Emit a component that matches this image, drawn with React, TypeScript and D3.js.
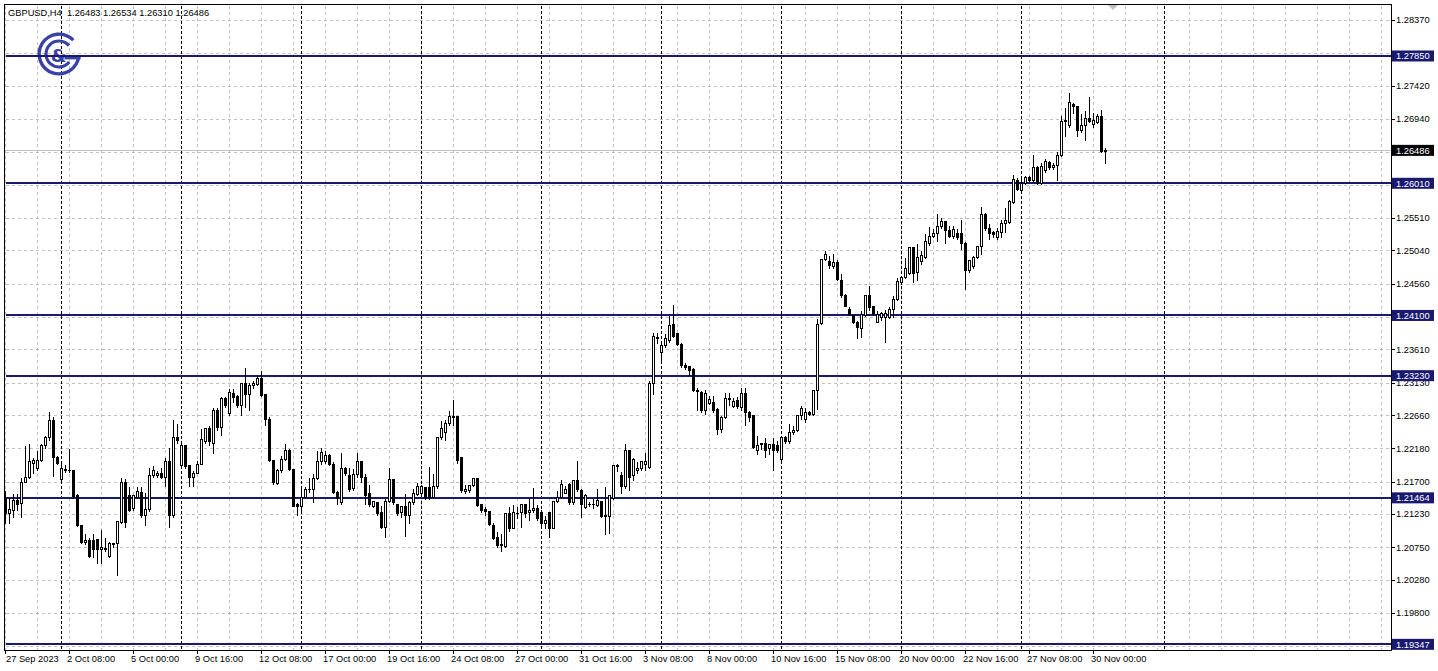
import React from 'react';
import * as d3 from 'd3';

type Candle = [number, number, number, number]; // open, high, low, close

// ---- price data (H4 bars) ----
const week0: Candle[] = [ // 27 Sep 16:00 - 29 Sep
  [1.2146,1.2158,1.2110,1.2124],[1.2124,1.2148,1.2110,1.2130],[1.2129,1.2153,1.2119,1.2143],[1.2143,1.2153,1.2129,1.2138],
  [1.2139,1.2177,1.2119,1.2170],[1.2170,1.2223,1.2170,1.2177],[1.2177,1.2225,1.2175,1.2199],[1.2197,1.2206,1.2182,1.2201],
  [1.2189,1.2216,1.2187,1.2201],[1.2201,1.2225,1.2199,1.2223],[1.2223,1.2237,1.2219,1.2234],[1.2234,1.2272,1.2230,1.2259],
  [1.2259,1.2264,1.2178,1.2205],[1.2206,1.2208,1.2196,1.2197],
];
const week1: Candle[] = [ // 2 Oct - 6 Oct
  [1.2173,1.2201,1.2172,1.2189],[1.2188,1.2196,1.2184,1.2187],[1.2187,1.2219,1.2184,1.2187],[1.2187,1.2188,1.2148,1.2149],
  [1.2151,1.2153,1.2106,1.2107],[1.2107,1.2107,1.2081,1.2082],[1.2082,1.2095,1.2079,1.2085],[1.2086,1.2090,1.2061,1.2062],
  [1.2086,1.2095,1.2061,1.2073],[1.2087,1.2088,1.2052,1.2072],[1.2072,1.2102,1.2052,1.2076],[1.2073,1.2090,1.2069,1.2074],
  [1.2062,1.2084,1.2061,1.2081],[1.2081,1.2082,1.2076,1.2080],[1.2081,1.2114,1.2035,1.2113],[1.2112,1.2177,1.2110,1.2169],
  [1.2169,1.2175,1.2105,1.2112],[1.2151,1.2163,1.2128,1.2129],[1.2132,1.2151,1.2129,1.2151],[1.2148,1.2163,1.2146,1.2156],
  [1.2155,1.2163,1.2119,1.2122],[1.2122,1.2155,1.2107,1.2130],[1.2130,1.2191,1.2127,1.2180],[1.2180,1.2194,1.2177,1.2187],
  [1.2180,1.2187,1.2176,1.2182],[1.2182,1.2191,1.2175,1.2176],[1.2176,1.2206,1.2163,1.2199],[1.2199,1.2220,1.2105,1.2121],
  [1.2121,1.2261,1.2119,1.2234],[1.2234,1.2254,1.2226,1.2230],
];
const week2: Candle[] = [ // 9 Oct - 13 Oct
  [1.2194,1.2225,1.2191,1.2223],[1.2223,1.2224,1.2189,1.2192],[1.2194,1.2195,1.2163,1.2177],[1.2177,1.2187,1.2163,1.2183],
  [1.2183,1.2201,1.2182,1.2196],[1.2196,1.2247,1.2195,1.2232],[1.2228,1.2249,1.2225,1.2247],[1.2247,1.2252,1.2223,1.2228],
  [1.2225,1.2278,1.2211,1.2273],[1.2273,1.2278,1.2245,1.2249],[1.2249,1.2293,1.2237,1.2290],[1.2290,1.2294,1.2278,1.2281],
  [1.2269,1.2305,1.2266,1.2300],[1.2298,1.2305,1.2285,1.2292],[1.2293,1.2297,1.2278,1.2280],[1.2280,1.2314,1.2266,1.2313],
  [1.2312,1.2336,1.2278,1.2296],[1.2296,1.2314,1.2273,1.2310],[1.2310,1.2317,1.2305,1.2313],[1.2311,1.2324,1.2310,1.2319],
  [1.2319,1.2331,1.2294,1.2295],[1.2297,1.2298,1.2252,1.2261],[1.2261,1.2264,1.2200,1.2201],[1.2201,1.2203,1.2167,1.2170],
  [1.2168,1.2189,1.2166,1.2187],[1.2187,1.2208,1.2184,1.2202],[1.2202,1.2226,1.2201,1.2215],[1.2215,1.2218,1.2187,1.2188],
  [1.2188,1.2189,1.2134,1.2135],[1.2138,1.2141,1.2122,1.2135],
];
const week3: Candle[] = [ // 16 Oct - 20 Oct
  [1.2134,1.2160,1.2129,1.2147],[1.2147,1.2163,1.2146,1.2159],[1.2159,1.2177,1.2155,1.2159],[1.2159,1.2182,1.2141,1.2175],
  [1.2175,1.2216,1.2174,1.2199],[1.2199,1.2220,1.2196,1.2212],[1.2199,1.2216,1.2197,1.2208],[1.2208,1.2211,1.2194,1.2196],
  [1.2196,1.2199,1.2153,1.2155],[1.2155,1.2158,1.2138,1.2146],[1.2140,1.2213,1.2138,1.2190],[1.2190,1.2193,1.2180,1.2182],
  [1.2179,1.2191,1.2157,1.2159],[1.2160,1.2189,1.2158,1.2181],[1.2181,1.2213,1.2177,1.2200],[1.2200,1.2201,1.2170,1.2177],
  [1.2176,1.2182,1.2138,1.2151],[1.2153,1.2167,1.2134,1.2138],[1.2135,1.2143,1.2133,1.2142],[1.2140,1.2141,1.2122,1.2124],
  [1.2126,1.2136,1.2103,1.2105],[1.2105,1.2146,1.2090,1.2142],[1.2142,1.2191,1.2141,1.2173],[1.2173,1.2175,1.2138,1.2140],
  [1.2137,1.2138,1.2122,1.2125],[1.2126,1.2136,1.2119,1.2134],[1.2134,1.2153,1.2091,1.2122],[1.2122,1.2143,1.2110,1.2141],
  [1.2140,1.2160,1.2138,1.2153],[1.2152,1.2170,1.2151,1.2163],
];
const week4: Candle[] = [ // 23 Oct - 27 Oct
  [1.2153,1.2167,1.2151,1.2163],[1.2162,1.2163,1.2145,1.2147],[1.2162,1.2193,1.2145,1.2148],[1.2148,1.2182,1.2146,1.2163],
  [1.2163,1.2236,1.2160,1.2234],[1.2234,1.2259,1.2231,1.2247],[1.2241,1.2260,1.2230,1.2255],[1.2254,1.2274,1.2252,1.2265],
  [1.2264,1.2289,1.2252,1.2263],[1.2264,1.2264,1.2197,1.2201],[1.2205,1.2206,1.2155,1.2158],[1.2157,1.2167,1.2153,1.2159],
  [1.2158,1.2167,1.2155,1.2165],[1.2165,1.2176,1.2164,1.2175],[1.2175,1.2176,1.2134,1.2136],[1.2138,1.2138,1.2126,1.2129],
  [1.2130,1.2135,1.2122,1.2128],[1.2128,1.2129,1.2107,1.2108],[1.2107,1.2112,1.2087,1.2089],[1.2090,1.2098,1.2076,1.2078],
  [1.2080,1.2095,1.2069,1.2078],[1.2077,1.2125,1.2076,1.2124],[1.2124,1.2134,1.2098,1.2103],[1.2103,1.2138,1.2103,1.2126],
  [1.2125,1.2134,1.2118,1.2124],[1.2126,1.2139,1.2105,1.2138],[1.2138,1.2138,1.2119,1.2125],[1.2126,1.2148,1.2114,1.2129],
  [1.2129,1.2162,1.2126,1.2132],[1.2132,1.2138,1.2114,1.2117],
];
const week5: Candle[] = [ // 30 Oct - 3 Nov
  [1.2126,1.2131,1.2107,1.2110],[1.2110,1.2122,1.2103,1.2115],[1.2126,1.2126,1.2090,1.2103],[1.2103,1.2143,1.2103,1.2142],
  [1.2142,1.2158,1.2141,1.2148],[1.2148,1.2173,1.2146,1.2167],[1.2154,1.2165,1.2153,1.2159],[1.2167,1.2170,1.2138,1.2140],
  [1.2140,1.2173,1.2138,1.2172],[1.2172,1.2201,1.2157,1.2159],[1.2158,1.2160,1.2119,1.2138],[1.2133,1.2153,1.2132,1.2151],
  [1.2138,1.2142,1.2134,1.2137],[1.2137,1.2146,1.2132,1.2138],[1.2136,1.2160,1.2134,1.2143],[1.2142,1.2143,1.2119,1.2120],
  [1.2122,1.2163,1.2094,1.2120],[1.2120,1.2152,1.2095,1.2151],[1.2146,1.2196,1.2145,1.2194],[1.2193,1.2197,1.2185,1.2194],
  [1.2179,1.2185,1.2154,1.2163],[1.2163,1.2225,1.2160,1.2216],[1.2216,1.2216,1.2158,1.2177],[1.2179,1.2206,1.2172,1.2203],
  [1.2187,1.2199,1.2182,1.2190],[1.2189,1.2201,1.2187,1.2200],[1.2196,1.2212,1.2187,1.2200],[1.2191,1.2317,1.2190,1.2313],
  [1.2312,1.2386,1.2297,1.2380],[1.2379,1.2386,1.2370,1.2377],
];
const week6: Candle[] = [ // 6 Nov - 10 Nov
  [1.2357,1.2374,1.2345,1.2367],[1.2367,1.2384,1.2365,1.2377],[1.2374,1.2410,1.2372,1.2396],[1.2398,1.2427,1.2379,1.2381],
  [1.2384,1.2386,1.2367,1.2369],[1.2369,1.2372,1.2336,1.2338],[1.2338,1.2343,1.2333,1.2336],[1.2337,1.2338,1.2324,1.2331],
  [1.2333,1.2336,1.2301,1.2302],[1.2303,1.2307,1.2273,1.2301],[1.2300,1.2302,1.2271,1.2273],[1.2273,1.2304,1.2268,1.2298],
  [1.2284,1.2295,1.2282,1.2289],[1.2285,1.2295,1.2271,1.2273],[1.2275,1.2278,1.2239,1.2246],[1.2246,1.2266,1.2242,1.2263],
  [1.2263,1.2300,1.2262,1.2291],[1.2291,1.2300,1.2280,1.2289],[1.2279,1.2292,1.2278,1.2286],[1.2288,1.2294,1.2276,1.2279],
  [1.2277,1.2306,1.2273,1.2298],[1.2298,1.2307,1.2251,1.2271],[1.2271,1.2273,1.2258,1.2263],[1.2266,1.2268,1.2218,1.2220],
  [1.2215,1.2237,1.2210,1.2223],[1.2225,1.2226,1.2217,1.2224],[1.2225,1.2234,1.2206,1.2216],[1.2218,1.2225,1.2210,1.2224],
  [1.2224,1.2234,1.2186,1.2216],[1.2223,1.2230,1.2213,1.2216],
];
const week7: Candle[] = [ // 13 Nov - 17 Nov
  [1.2203,1.2237,1.2201,1.2234],[1.2234,1.2237,1.2225,1.2229],[1.2229,1.2254,1.2225,1.2242],[1.2242,1.2251,1.2239,1.2245],
  [1.2245,1.2268,1.2243,1.2266],[1.2266,1.2280,1.2261,1.2276],[1.2260,1.2278,1.2256,1.2271],[1.2271,1.2273,1.2266,1.2268],
  [1.2268,1.2304,1.2266,1.2302],[1.2302,1.2406,1.2275,1.2398],[1.2399,1.2492,1.2398,1.2491],[1.2491,1.2505,1.2490,1.2499],
  [1.2489,1.2497,1.2478,1.2483],[1.2482,1.2500,1.2478,1.2487],[1.2487,1.2492,1.2461,1.2462],[1.2461,1.2471,1.2437,1.2439],
  [1.2439,1.2442,1.2423,1.2423],[1.2420,1.2423,1.2411,1.2412],[1.2411,1.2411,1.2399,1.2401],[1.2401,1.2403,1.2377,1.2393],
  [1.2392,1.2418,1.2379,1.2412],[1.2411,1.2441,1.2409,1.2439],[1.2439,1.2454,1.2418,1.2422],[1.2424,1.2425,1.2411,1.2412],
  [1.2401,1.2418,1.2400,1.2412],[1.2408,1.2416,1.2403,1.2413],[1.2408,1.2420,1.2372,1.2413],[1.2408,1.2423,1.2406,1.2420],
  [1.2419,1.2440,1.2408,1.2434],[1.2434,1.2466,1.2432,1.2460],
];
const week8: Candle[] = [ // 20 Nov - 24 Nov
  [1.2459,1.2468,1.2456,1.2466],[1.2465,1.2494,1.2464,1.2478],[1.2472,1.2510,1.2470,1.2509],[1.2509,1.2510,1.2459,1.2472],
  [1.2473,1.2515,1.2461,1.2495],[1.2488,1.2505,1.2485,1.2497],[1.2494,1.2529,1.2493,1.2517],[1.2514,1.2539,1.2512,1.2525],
  [1.2525,1.2536,1.2523,1.2529],[1.2529,1.2558,1.2517,1.2539],[1.2539,1.2553,1.2536,1.2546],[1.2546,1.2548,1.2515,1.2534],
  [1.2534,1.2541,1.2523,1.2525],[1.2525,1.2541,1.2522,1.2535],[1.2529,1.2536,1.2520,1.2524],[1.2529,1.2549,1.2506,1.2514],
  [1.2514,1.2517,1.2448,1.2475],[1.2475,1.2492,1.2473,1.2490],[1.2481,1.2497,1.2479,1.2494],[1.2494,1.2512,1.2493,1.2510],
  [1.2510,1.2568,1.2499,1.2557],[1.2556,1.2560,1.2533,1.2536],[1.2536,1.2543,1.2521,1.2529],[1.2531,1.2534,1.2523,1.2528],
  [1.2523,1.2538,1.2520,1.2532],[1.2531,1.2550,1.2523,1.2544],[1.2544,1.2567,1.2531,1.2548],[1.2545,1.2579,1.2543,1.2575],
  [1.2574,1.2614,1.2572,1.2607],[1.2606,1.2610,1.2591,1.2593],
];
const week9: Candle[] = [ // 27 Nov - 30 Nov 12:00
  [1.2591,1.2608,1.2589,1.2601],[1.2601,1.2613,1.2600,1.2610],[1.2610,1.2613,1.2605,1.2606],[1.2606,1.2643,1.2605,1.2624],
  [1.2624,1.2627,1.2600,1.2601],[1.2601,1.2632,1.2600,1.2626],[1.2620,1.2637,1.2618,1.2633],[1.2632,1.2634,1.2621,1.2624],
  [1.2624,1.2632,1.2622,1.2627],[1.2627,1.2648,1.2606,1.2642],[1.2642,1.2699,1.2640,1.2691],[1.2691,1.2711,1.2670,1.2692],
  [1.2685,1.2733,1.2683,1.2718],[1.2716,1.2719,1.2702,1.2712],[1.2712,1.2714,1.2670,1.2678],[1.2678,1.2702,1.2675,1.2685],
  [1.2685,1.2707,1.2663,1.2696],[1.2696,1.2727,1.2690,1.2691],[1.2686,1.2704,1.2683,1.2692],[1.2690,1.2703,1.2688,1.2698],
  [1.2698,1.2709,1.2646,1.2648],[1.26483,1.26534,1.26310,1.26486],
];

const symbol = 'GBPUSD,H4';
const lastBarText = ['1.26483', '1.26534', '1.26310', '1.26486'];
const currentPrice = 1.26486;

const priceLabels = ['1.28370','1.27420','1.26940','1.25510','1.25040','1.24560','1.23610','1.23130','1.22660','1.22180','1.21700','1.21230','1.20750','1.20280','1.19800'];
const gridPrices = [1.28370,1.27890,1.27420,1.26940,1.26460,1.25990,1.25510,1.25040,1.24560,1.24080,1.23610,1.23130,1.22660,1.22180,1.21700,1.21230,1.20750,1.20280,1.19800,1.19330];
const levels = [1.27850, 1.26010, 1.24100, 1.23230, 1.21464, 1.19347];

const timeLabels = ['27 Sep 2023','2 Oct 08:00','5 Oct 00:00','9 Oct 16:00','12 Oct 08:00','17 Oct 00:00','19 Oct 16:00','24 Oct 08:00','27 Oct 00:00','31 Oct 16:00','3 Nov 08:00','8 Nov 00:00','10 Nov 16:00','15 Nov 08:00','20 Nov 00:00','22 Nov 16:00','27 Nov 08:00','30 Nov 00:00'];
const barsPerLabel = 16;
const barsPerGrid = 8;
const firstWeekBars = 14; // bars before the first Monday separator
const barsPerWeek = 30;
const extraSeparatorBar = 289.6;

const candles: Candle[] = [...week0, ...week1, ...week2, ...week3, ...week4, ...week5, ...week6, ...week7, ...week8, ...week9];

const W = 1438, H = 671;
const L = 4.5, T = 4.5, R = 1391.5, B = 650.5;
const NAVY = '#191970';
const FONT = '"Liberation Sans", Arial, sans-serif';
const FS = 9.3;

export default function App() {
  const xs = d3.scaleLinear().domain([0, 1]).range([5.5, 9.5]);
  const ys = d3.scaleLinear().domain([1.28370, 1.19800]).range([20, 613]);
  const py = (p: number) => Math.round(ys(p)) + 0.5;

  const vGrid: number[] = [];
  for (let j = 0; xs(j) < R; j += barsPerGrid) vGrid.push(j);
  const seps: number[] = [];
  for (let j = firstWeekBars; j < candles.length; j += barsPerWeek) seps.push(j);

  const logoCx = 59, logoCy = 54;
  const arcG = d3.arc<any>()({ innerRadius: 18.2, outerRadius: 21.6, startAngle: (95 * Math.PI) / 180, endAngle: (406 * Math.PI) / 180 }) as string;
  const arcC = d3.arc<any>()({ innerRadius: 11.4, outerRadius: 14.6, startAngle: (128 * Math.PI) / 180, endAngle: (410 * Math.PI) / 180 }) as string;
  const logoColor = '#3a42a6';

  return (
    <svg width={W} height={H} style={{ position: 'absolute', left: 0, top: 0, background: '#fff' }} fontFamily={FONT} fontSize={FS}>
      <rect x={0} y={0} width={W} height={H} fill="#fff" />
      {/* grid */}
      <g stroke="#c0c0c0" strokeDasharray="3,3" shapeRendering="crispEdges">
        {gridPrices.map((p, i) => (
          <line key={i} x1={L + 1} x2={R} y1={py(p)} y2={py(p)} />
        ))}
        {vGrid.map((j) => (
          <line key={'v' + j} x1={xs(j)} x2={xs(j)} y1={T + 1} y2={B} />
        ))}
      </g>
      {/* weekly separators */}
      <g stroke="#000" strokeDasharray="3,2" shapeRendering="crispEdges">
        {seps.map((j) => (
          <line key={j} x1={xs(j)} x2={xs(j)} y1={T + 1} y2={B} />
        ))}
        <line x1={Math.round(xs(extraSeparatorBar)) + 0.5} x2={Math.round(xs(extraSeparatorBar)) + 0.5} y1={T + 1} y2={B} />
      </g>
      {/* logo */}
      <g fill={logoColor} transform={`translate(${logoCx},${logoCy})`}>
        <path d={arcG} />
        <rect x={5.5} y={2} width={16.1} height={3.4} />
        <path d={arcC} />
        <text x={-0.5} y={8} textAnchor="middle" fontSize={18} fontWeight="bold" fontFamily='"DejaVu Sans", sans-serif'>&amp;</text>
      </g>
      {/* current price line */}
      <line x1={L + 1} x2={R} y1={py(currentPrice)} y2={py(currentPrice)} stroke="#c0c0c0" shapeRendering="crispEdges" />
      {/* level lines */}
      {levels.map((v, i) => (
        <line key={i} x1={L + 1} x2={R} y1={Math.round(ys(v))} y2={Math.round(ys(v))} stroke={NAVY} strokeWidth={2} shapeRendering="crispEdges" />
      ))}
      {/* candles */}
      <g shapeRendering="crispEdges" stroke="#000">
        {candles.map((c, j) => {
          const [o, h, l, cl] = c;
          const x = xs(j);
          const yt = py(Math.max(o, cl));
          const yb = py(Math.min(o, cl));
          return (
            <g key={j}>
              <line x1={x} x2={x} y1={py(h)} y2={py(l) + 0.5} />
              {yb - yt < 1 ? (
                <line x1={x - 1.5} x2={x + 1.5} y1={yt} y2={yt} />
              ) : (
                <rect x={x - 1} y={yt} width={2} height={yb - yt} fill={cl >= o ? '#fff' : '#000'} />
              )}
            </g>
          );
        })}
      </g>
      {/* chart shift marker */}
      <polygon points="1108,5 1118,5 1113,10" fill="#c0c0c0" />
      {/* frame */}
      <rect x={L} y={T} width={R - L} height={B - T} fill="none" stroke="#000" shapeRendering="crispEdges" />
      {/* header */}
      <text x={8} y={16} fill="#000" xmlSpace="preserve">{symbol + '  ' + lastBarText.join(' ')}</text>
      {/* price axis */}
      <g shapeRendering="crispEdges">
        {gridPrices.map((p, i) => (
          <line key={i} x1={R} x2={R + 3} y1={py(p)} y2={py(p)} stroke="#000" />
        ))}
      </g>
      {priceLabels.map((s, i) => (
        <text key={i} x={1396} y={ys(+s) + 3.4} fill="#000">{s}</text>
      ))}
      {levels.map((v, i) => (
        <g key={i}>
          <rect x={1392} y={ys(v) - 5.5} width={42} height={11} fill={NAVY} />
          <text x={1396} y={ys(v) + 3.4} fill="#fff">{v.toFixed(5)}</text>
        </g>
      ))}
      <rect x={1392} y={ys(currentPrice) - 5.5} width={42} height={11} fill="#000" />
      <text x={1396} y={ys(currentPrice) + 3.4} fill="#fff">{currentPrice.toFixed(5)}</text>
      {/* time axis */}
      {timeLabels.map((s, i) => {
        const x = xs(i * barsPerLabel);
        return (
          <g key={i}>
            <line x1={x} x2={x} y1={B} y2={B + 3} stroke="#000" shapeRendering="crispEdges" />
            <text x={Math.max(6, x - 2.5)} y={662} fill="#000">{s}</text>
          </g>
        );
      })}
    </svg>
  );
}
